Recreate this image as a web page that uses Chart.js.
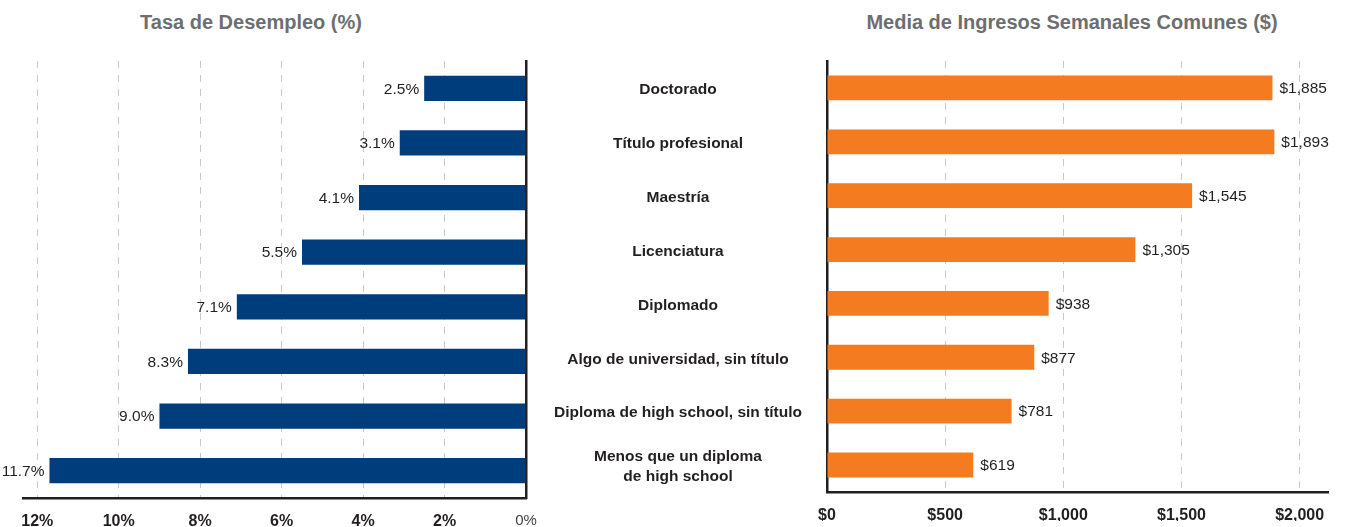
<!DOCTYPE html>
<html>
<head>
<meta charset="utf-8">
<script src="https://cdn.jsdelivr.net/npm/chart.js@4"></script>
<style>
  body { margin: 0; background: #fff; font-family: "Liberation Sans", Arial, sans-serif; }
  #wrap { position: relative; width: 1361px; height: 527px; overflow: hidden; }
  .title { position: absolute; top: 11px; line-height: 22px; font-weight: bold; font-size: 20px;
           color: #6d6e71; transform: translateX(-50%); white-space: nowrap; }
  #leftBox { position: absolute; left: 0; top: 0; }
  #rightBox { position: absolute; left: 540px; top: 0; }
</style>
</head>
<body>
<div id="wrap">
  <div class="title" style="left:251px">Tasa de Desempleo (%)</div>
  <div class="title" style="left:1072px">Media de Ingresos Semanales Comunes ($)</div>
  <canvas id="leftBox" width="545" height="527"></canvas>
  <canvas id="rightBox" width="821" height="527"></canvas>
</div>
<script>
// Data
const categories = [
    'Doctorado',
    'Título profesional',
    'Maestría',
    'Licenciatura',
    'Diplomado',
    'Algo de universidad, sin título',
    'Diploma de high school, sin título',
    ['Menos que un diploma', 'de high school']
];
const unemployment = [2.5, 3.1, 4.1, 5.5, 7.1, 8.3, 9.0, 11.7];
const earnings = [1885, 1893, 1545, 1305, 938, 877, 781, 619];
const unemploymentTicks = [0, 2, 4, 6, 8, 10, 12];
const earningsTicks = [0, 500, 1000, 1500, 2000];

const FONT = '"Liberation Sans", Arial, sans-serif';
const INK = '#231f20';

// Draws the value next to the end of each bar
const valueLabels = {
    id: 'valueLabels',
    afterDatasetsDraw(chart, args, opts) {
        const ctx = chart.ctx;
        const meta = chart.getDatasetMeta(0);
        const values = chart.data.datasets[0].data;
        ctx.save();
        ctx.font = '15.5px ' + FONT;
        ctx.fillStyle = INK;
        ctx.textBaseline = 'middle';
        meta.data.forEach((bar, i) => {
            if (opts.side === 'left') {
                ctx.textAlign = 'right';
                ctx.fillText(values[i].toFixed(1) + '%', bar.x - 5, bar.y + 1);
            } else {
                ctx.textAlign = 'left';
                ctx.fillText('$' + values[i].toLocaleString('en-US'), bar.x + 7, bar.y + 1);
            }
        });
        ctx.restore();
    }
};

const gridX = {
    color: ctx => ctx.tick && ctx.tick.value === 0 ? 'rgba(0,0,0,0)' : '#c9c9c9',
    lineWidth: 1,
    drawTicks: false
};

// Left chart: unemployment rate, axis reversed
new Chart(document.getElementById('leftBox'), {
    type: 'bar',
    data: {
        labels: categories,
        datasets: [{
            data: unemployment,
            backgroundColor: '#003d7c',
            borderWidth: 0,
            barPercentage: 0.46,
            categoryPercentage: 1
        }]
    },
    options: {
        indexAxis: 'y',
        responsive: false,
        animation: false,
        layout: { padding: { left: 23, right: 19, top: 61, bottom: 0 } },
        plugins: {
            legend: { display: false },
            tooltip: { enabled: false },
            valueLabels: { side: 'left' }
        },
        scales: {
            x: {
                reverse: true,
                min: 0,
                max: 12.35,
                grid: gridX,
                border: { color: INK, width: 2.5, dash: [7, 7] },
                afterFit: axis => { axis.height = 29; },
                afterBuildTicks: axis => { axis.ticks = unemploymentTicks.map(v => ({ value: v })); },
                ticks: {
                    padding: 14,
                    color: ctx => ctx.tick.value === 0 ? '#444' : INK,
                    font: ctx => ({
                        family: FONT,
                        size: ctx.tick && ctx.tick.value === 0 ? 15 : 16,
                        weight: ctx.tick && ctx.tick.value === 0 ? 'normal' : 'bold'
                    }),
                    callback: v => v + '%'
                }
            },
            y: {
                position: 'right',
                grid: { display: false, drawTicks: false },
                border: { color: INK, width: 2.5 },
                ticks: { display: false }
            }
        }
    },
    plugins: [valueLabels]
});

// Right chart: weekly earnings, category labels on its left axis
new Chart(document.getElementById('rightBox'), {
    type: 'bar',
    data: {
        labels: categories,
        datasets: [{
            data: earnings,
            backgroundColor: '#f47b20',
            borderWidth: 0,
            barPercentage: 0.46,
            categoryPercentage: 1
        }]
    },
    options: {
        indexAxis: 'y',
        responsive: false,
        animation: false,
        layout: { padding: { left: 0, right: 33, top: 61, bottom: 0 } },
        plugins: {
            legend: { display: false },
            tooltip: { enabled: false },
            valueLabels: { side: 'right' }
        },
        scales: {
            x: {
                min: 0,
                max: 2120,
                grid: gridX,
                border: { color: INK, width: 2.5, dash: [7, 7] },
                afterFit: axis => { axis.height = 29; },
                afterBuildTicks: axis => { axis.ticks = earningsTicks.map(v => ({ value: v })); },
                ticks: {
                    padding: 14,
                    color: INK,
                    font: { family: FONT, size: 16, weight: 'bold' },
                    callback: v => '$' + v.toLocaleString('en-US')
                }
            },
            y: {
                grid: { display: false, drawTicks: false },
                border: { color: INK, width: 2.5 },
                afterFit: axis => { axis.width = 287; },
                ticks: {
                    crossAlign: 'center',
                    padding: 25,
                    labelOffset: 2,
                    color: INK,
                    font: { family: FONT, size: 15.5, weight: 'bold', lineHeight: 1.3 }
                }
            }
        }
    },
    plugins: [valueLabels]
});
</script>
</body>
</html>
